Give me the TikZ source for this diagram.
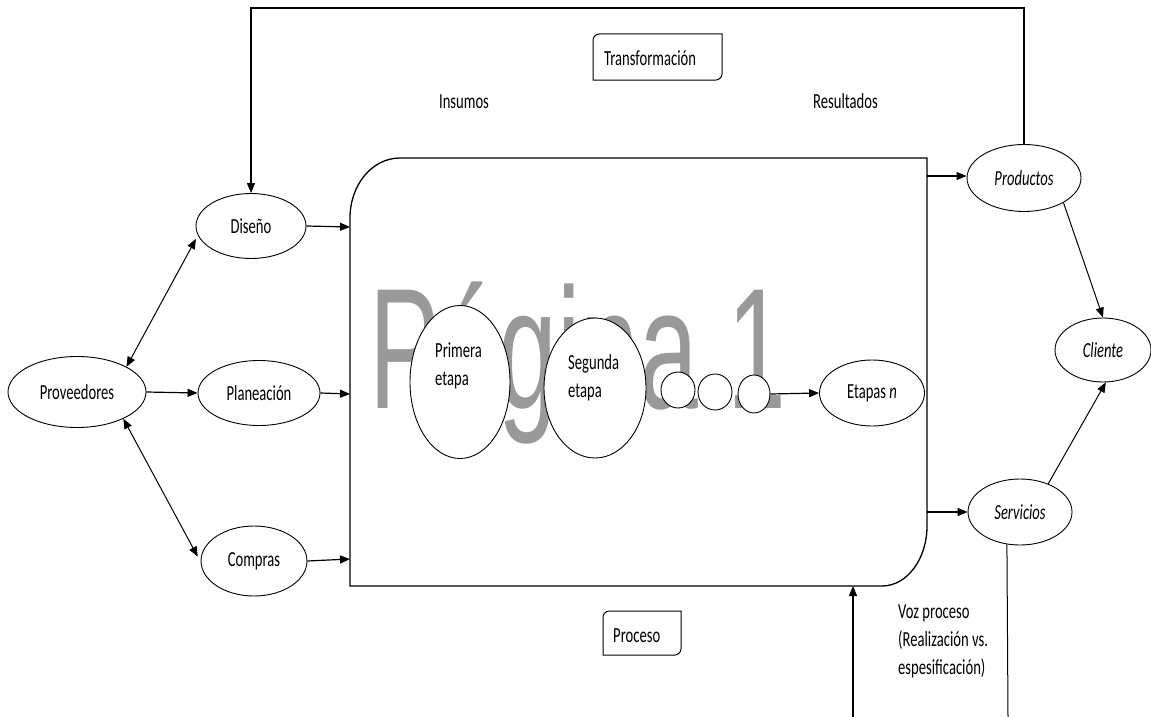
\documentclass[tikz,border=0pt]{standalone}
\usepackage{fontspec}
\setmainfont[FakeStretch=0.68]{Carlito}
\newfontfamily\wmfont[FakeStretch=0.615]{Liberation Sans}
\usetikzlibrary{arrows.meta,shapes.geometric}
\definecolor{wmgray}{HTML}{999999}
\begin{document}
\begin{tikzpicture}[x=1pt,y=-1pt,
  lbl/.style={font=\fontsize{21.5}{28}\selectfont, inner sep=0pt},
  ell/.style={ellipse, draw, line width=0.9pt, fill=white, inner sep=0pt, font=\fontsize{21.5}{28}\selectfont},
  arr/.style={line width=1.2pt, -{Triangle[length=10pt,width=8pt]}},
  darr/.style={line width=1pt, {Triangle[length=10pt,width=8pt]}-{Triangle[length=10pt,width=8pt]}},
  ln/.style={line width=1pt}]
\useasboundingbox (0,0) rectangle (1151,717);
% process box
\draw[line width=1.3pt] (350,586) -- (350,218) .. controls (350,185) and (372,158) .. (400,158) -- (927,158) -- (927,526) .. controls (927,559) and (907,586) .. (882,586) -- cycle;
% watermark
\node[anchor=base west, inner sep=0pt, text=wmgray, font={\wmfont\fontsize{172}{172}\selectfont}] (wm) at (369,408) {Página 1};
% nodes
\node[ell, minimum width=138pt, minimum height=71pt] (prov) at (77,392) {Proveedores};
\node[ell, minimum width=110pt, minimum height=65pt] (dis) at (251,226) {Diseño};
\node[ell, minimum width=122pt, minimum height=65pt] (plan) at (259,393) {Planeación};
\node[ell, minimum width=106pt, minimum height=70pt] (comp) at (254,561) {Compras};
\node[ell, minimum width=100pt, minimum height=153pt] (e1) at (460,382) {};
\node[ell, minimum width=102pt, minimum height=140pt] (e2) at (595,388) {};
\node[lbl, align=left, anchor=north west] (e1t) at (435,343) {Primera\\etapa};
\node[lbl, align=left, anchor=north west] (e2t) at (568,354) {Segunda\\etapa};
\node[ell, minimum width=34pt, minimum height=36pt] (c1) at (678,390) {};
\node[ell, minimum width=34pt, minimum height=36pt] (c2) at (715,392) {};
\node[ell, minimum width=32pt, minimum height=38pt] (c3) at (754,394) {};
\node[ell, minimum width=105pt, minimum height=66pt] (etn) at (872,393) {Etapas \textit{n}};
\node[ell, minimum width=114pt, minimum height=67pt] (prod) at (1024,178) {\textit{Productos}};
\node[ell, minimum width=104pt, minimum height=66pt] (serv) at (1020,512) {\textit{Servicios}};
\node[ell, minimum width=96pt, minimum height=64pt] (cli) at (1103,350) {\textit{Cliente}};
% labels
\node[lbl, anchor=base] (ins) at (464,108) {Insumos};
\node[lbl, anchor=base] (res) at (845.5,108) {Resultados};
\node[lbl, anchor=base west] (transf) at (604,66) {Transformación};
\node[lbl, anchor=base west] (proc) at (613,642) {Proceso};
\node[lbl, align=left, anchor=north west] (voz) at (898,604) {Voz proceso\\(Realización vs.\\espesificación)};
% frames
\draw[line width=1pt] (593,40) .. controls (593,36.7) and (596.3,34) .. (599,34) -- (722,34) -- (722,74) .. controls (722,77.3) and (718.7,80) .. (716,80) -- (593,80) -- cycle;
\draw[line width=1pt] (603,617) .. controls (603,613.7) and (606.3,611) .. (609,611) -- (681,611) -- (681,649) .. controls (681,652.3) and (677.7,655) .. (675,655) -- (603,655) -- cycle;
% coordinates
\coordinate (inD) at (350,227);
\coordinate (inP) at (350,394);
\coordinate (inC) at (350,559);
\coordinate (outP) at (927,176);
\coordinate (outS) at (927,512);
\coordinate (fbtop) at (0,8);
\coordinate (vozb) at (853,717);
\coordinate (vozt) at (853,586);
\coordinate (servb) at (1008,717);
% connectors
\draw[darr, shorten >=4pt] (prov.27) -- (dis.190);
\draw[darr, shorten >=6pt] (prov.-30) -- (comp.181);
\draw[arr] (prov.east) -- (plan.west);
\draw[arr] (dis.east) -- (inD);
\draw[arr] (plan.east) -- (inP);
\draw[arr] (comp.east) -- (inC);
\draw[arr] (outP) -- (outP -| prod.west);
\draw[arr] (outS) -- (serv.west);
\draw[arr] (c3.east) -- (etn.west);
\draw[ln, -{Triangle[length=10pt,width=8pt]}] (prod.-32) -- (cli.north);
\draw[ln, -{Triangle[length=10pt,width=8pt]}] (serv.45) -- (cli.-85);
\draw[arr] (prod.north) -- (prod.north |- fbtop) -| (dis.north);
\draw[arr] (vozb) -- (vozt);
\draw[ln] (serv.-112) -- (servb);
\end{tikzpicture}
\end{document}
